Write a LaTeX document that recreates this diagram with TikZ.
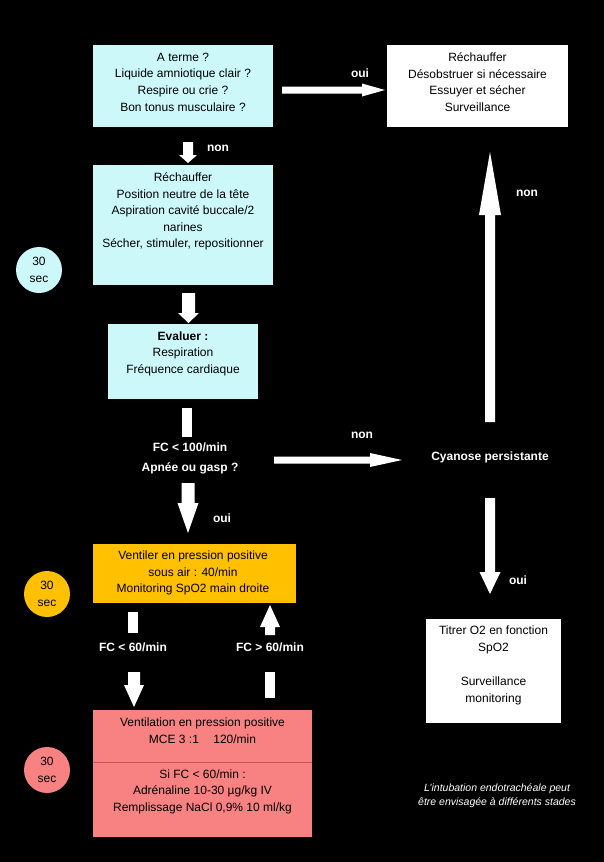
\documentclass[tikz,border=0pt]{standalone}
\usepackage{fontspec}
\setmainfont{Liberation Sans}
\usetikzlibrary{calc}
\definecolor{cyanbox}{HTML}{CCF8FA}
\definecolor{yellowbox}{HTML}{FFC000}
\definecolor{redbox}{HTML}{F88282}
\definecolor{reddiv}{HTML}{C05858}
% vertical block arrow: start, tip, shaft half width, head half width, signed head length
\newcommand\vblock[5]{%
  \fill[white] ($(#1)+(-#3,0)$) -- ($(#2)+(-#3,#5)$) -- ($(#2)+(-#4,#5)$) -- (#2)
    -- ($(#2)+(#4,#5)$) -- ($(#2)+(#3,#5)$) -- ($(#1)+(#3,0)$) -- cycle;}
% horizontal block arrow pointing right
\newcommand\hblock[5]{%
  \fill[white] ($(#1)+(0,-#3)$) -- ($(#2)+(-#5,-#3)$) -- ($(#2)+(-#5,-#4)$) -- (#2)
    -- ($(#2)+(-#5,#4)$) -- ($(#2)+(-#5,#3)$) -- ($(#1)+(0,#3)$) -- cycle;}
\begin{document}
\begin{tikzpicture}[x=1pt,y=-1pt,
  box/.style={inner sep=0pt, outer sep=0pt, draw=none},
  boxtext/.style={align=center, inner sep=0pt, font=\fontsize{12}{16.6}\selectfont},
  lbl/.style={inner sep=0pt, text=white, font=\bfseries\fontsize{12}{20}\selectfont, align=center},
  sectext/.style={align=center, inner sep=0pt, font=\fontsize{12}{17}\selectfont},
  circ/.style={circle, inner sep=0pt, minimum size=46pt},
  bar/.style={fill=white}]
\fill[black] (0,0) rectangle (604,862);
\useasboundingbox (0,0) rectangle (604,862);

% boxes
\node[box, fill=cyanbox, minimum width=180pt, minimum height=82pt] (b1) at (183,86) {};
\node[box, fill=cyanbox, minimum width=180pt, minimum height=120pt] (b2) at (183,225) {};
\node[box, fill=cyanbox, minimum width=150pt, minimum height=75pt] (b3) at (183,361.5) {};
\node[box, fill=white, minimum width=181pt, minimum height=82pt] (bw) at (477.5,86) {};
\node[box, fill=white, minimum width=135pt, minimum height=104pt] (bt) at (493.5,671) {};
\node[box, fill=yellowbox, minimum width=203pt, minimum height=59pt] (by) at (194.5,573.5) {};
\node[box, fill=redbox, minimum width=219pt, minimum height=52pt] (brt) at (202.5,736) {};
\node[box, fill=redbox, minimum width=219pt, minimum height=75pt] (brb) at (202.5,799.5) {};
\draw[reddiv, line width=0.8pt] (brt.south west) -- (brt.south east);

% box texts
\node[boxtext] (t1) at (183,82) {A terme ?\\Liquide amniotique clair ?\\Respire ou crie ?\\Bon tonus musculaire ?};
\node[boxtext] (t2) at (183,211.5) {Réchauffer\\Position neutre de la tête\\Aspiration cavité buccale/2\\narines\\Sécher, stimuler, repositionner};
\node[boxtext] (t3) at (183,353.5) {\textbf{Evaluer :}\\Respiration\\Fréquence cardiaque};
\node[boxtext] (tw) at (477.5,82) {Réchauffer\\Désobstruer si nécessaire\\Essuyer et sécher\\Surveillance};
\node[boxtext, font=\fontsize{12}{17}\selectfont] (tt) at (493.5,665) {Titrer O2 en fonction\\SpO2\\\mbox{}\\Surveillance\\monitoring};
\node[boxtext] (ty) at (193,573) {Ventiler en pression positive\\sous air : 40/min\\Monitoring SpO2 main droite};
\node[boxtext] (trt) at (202.5,731) {Ventilation en pression positive\\MCE 3 :1\hspace{1.2em}120/min};
\node[boxtext] (trb) at (202.5,791.5) {Si FC < 60/min :\\Adrénaline 10-30 µg/kg IV\\Remplissage NaCl 0,9\% 10 ml/kg};

% circles
\node[circ, fill=cyanbox] (c1) at (39,270) {};
\node[sectext] (c1t) at (c1) {30\\sec};
\node[circ, fill=yellowbox] (c2) at (47,594) {};
\node[sectext] (c2t) at (c2) {30\\sec};
\node[circ, fill=redbox] (c3) at (47,770) {};
\node[sectext] (c3t) at (c3) {30\\sec};

% decision texts
\node[lbl] (fc) at (190,458) {FC < 100/min\\Apnée ou gasp ?};
\node[lbl] (cy) at (490,457) {Cyanose persistante};
\node[lbl] (fl) at (133,647) {FC < 60/min};
\node[lbl] (fg) at (270,647) {FC > 60/min};

% arrow labels
\node[lbl] (l1) at (360,73) {oui};
\node[lbl] (l2) at (218,148) {non};
\node[lbl] (l3) at (362,435) {non};
\node[lbl] (l4) at (222,518) {oui};
\node[lbl] (l5) at (527,193) {non};
\node[lbl] (l6) at (518,580) {oui};

% note
\node[align=center, inner sep=0pt, text=white, font=\itshape\fontsize{10.5}{14}\selectfont] (note) at (497,796) {L'intubation endotrachéale peut\\être envisagée à différents stades};

% arrow coordinates
\coordinate (a1s) at (188,142); \coordinate (a1t) at (188,163);
\coordinate (a2s) at (188.5,293); \coordinate (a2t) at (188.5,323);
\coordinate (a4s) at (188,483); \coordinate (a4t) at (188,533);
\coordinate (a5s) at (282,90); \coordinate (a5t) at (385,90);
\coordinate (a6s) at (274,460); \coordinate (a6t) at (402,460);
\coordinate (a7s) at (490,422); \coordinate (a7t) at (490,152);
\coordinate (a8s) at (490,498); \coordinate (a8t) at (490,594);
\coordinate (a9s) at (134,672); \coordinate (a9t) at (134,707);
\coordinate (a10s) at (270,635); \coordinate (a10t) at (270,605);

\vblock{a1s}{a1t}{5}{9}{-8}
\vblock{a2s}{a2t}{6.5}{10.5}{-10}
\vblock{a4s}{a4t}{6.5}{10.5}{-30}
\hblock{a5s}{a5t}{3.5}{6.5}{23}
\hblock{a6s}{a6t}{3.5}{7}{32}
\vblock{a7s}{a7t}{5}{11}{63}
\vblock{a8s}{a8t}{5}{10.5}{-22}
\vblock{a9s}{a9t}{6}{10}{-22}
\vblock{a10s}{a10t}{5}{10}{22}

% bars without heads
\fill[bar] ($(b3.south)+(-1,9)$) rectangle ($(b3.south)+(9,38)$);
\fill[bar] ($(by.south)+(-66.5,9)$) rectangle ($(by.south)+(-56.5,30)$);
\fill[bar] ($(brt.north)+(62.5,-38)$) rectangle ($(brt.north)+(72.5,-12)$);
\end{tikzpicture}
\end{document}
